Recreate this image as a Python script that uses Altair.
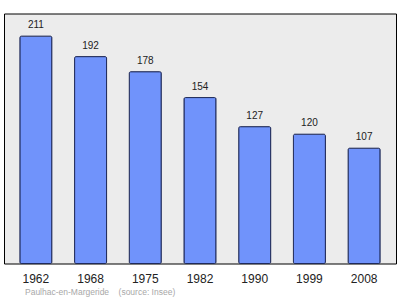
import altair as alt
import pandas as pd

years = ["1962", "1968", "1975", "1982", "1990", "1999", "2008"]
population = [211, 192, 178, 154, 127, 120, 107]
footer = "Paulhac-en-Margeride\u00a0\u00a0\u00a0\u00a0(source: Insee)"

df = pd.DataFrame({"year": years, "pop": population})

x = alt.X("year:N", sort=years,
          scale=alt.Scale(paddingInner=0.415, paddingOuter=0.29),
          axis=alt.Axis(title=None, labelAngle=0, ticks=False, domain=False,
                        labelPadding=10, labelFontSize=12, labelColor="#222222",
                        labelFont="Liberation Sans"))
y = alt.Y("pop:Q", scale=alt.Scale(domain=[0, 232], nice=False),
          axis=None)

base = alt.Chart(df).encode(x=x, y=y)

bars = base.mark_bar(color="#7093fb", stroke="#1f2a5a", strokeWidth=1,
                     cornerRadius=1.5)
labels = base.mark_text(dy=-8, baseline="alphabetic", fontSize=10,
                        font="Liberation Sans", color="#222222").encode(
    text="pop:Q")

foot = alt.Chart(pd.DataFrame({"t": [footer]})).mark_text(
    align="left", baseline="middle", fontSize=8.5, font="Liberation Sans",
    color="#a8a8a8").encode(x=alt.value(21), y=alt.value(278.5), text="t:N")

chart = alt.layer(bars, labels, foot).properties(
    width=392, height=250,
    background="white",
    autosize=alt.AutoSizeParams(type="none"),
    padding={"left": 4, "top": 13.5, "right": 4, "bottom": 35.5},
).configure_view(fill="#ececec", stroke="#000000", strokeWidth=1)

chart.save("out.html", embed_options={"renderer": "svg", "actions": False})
